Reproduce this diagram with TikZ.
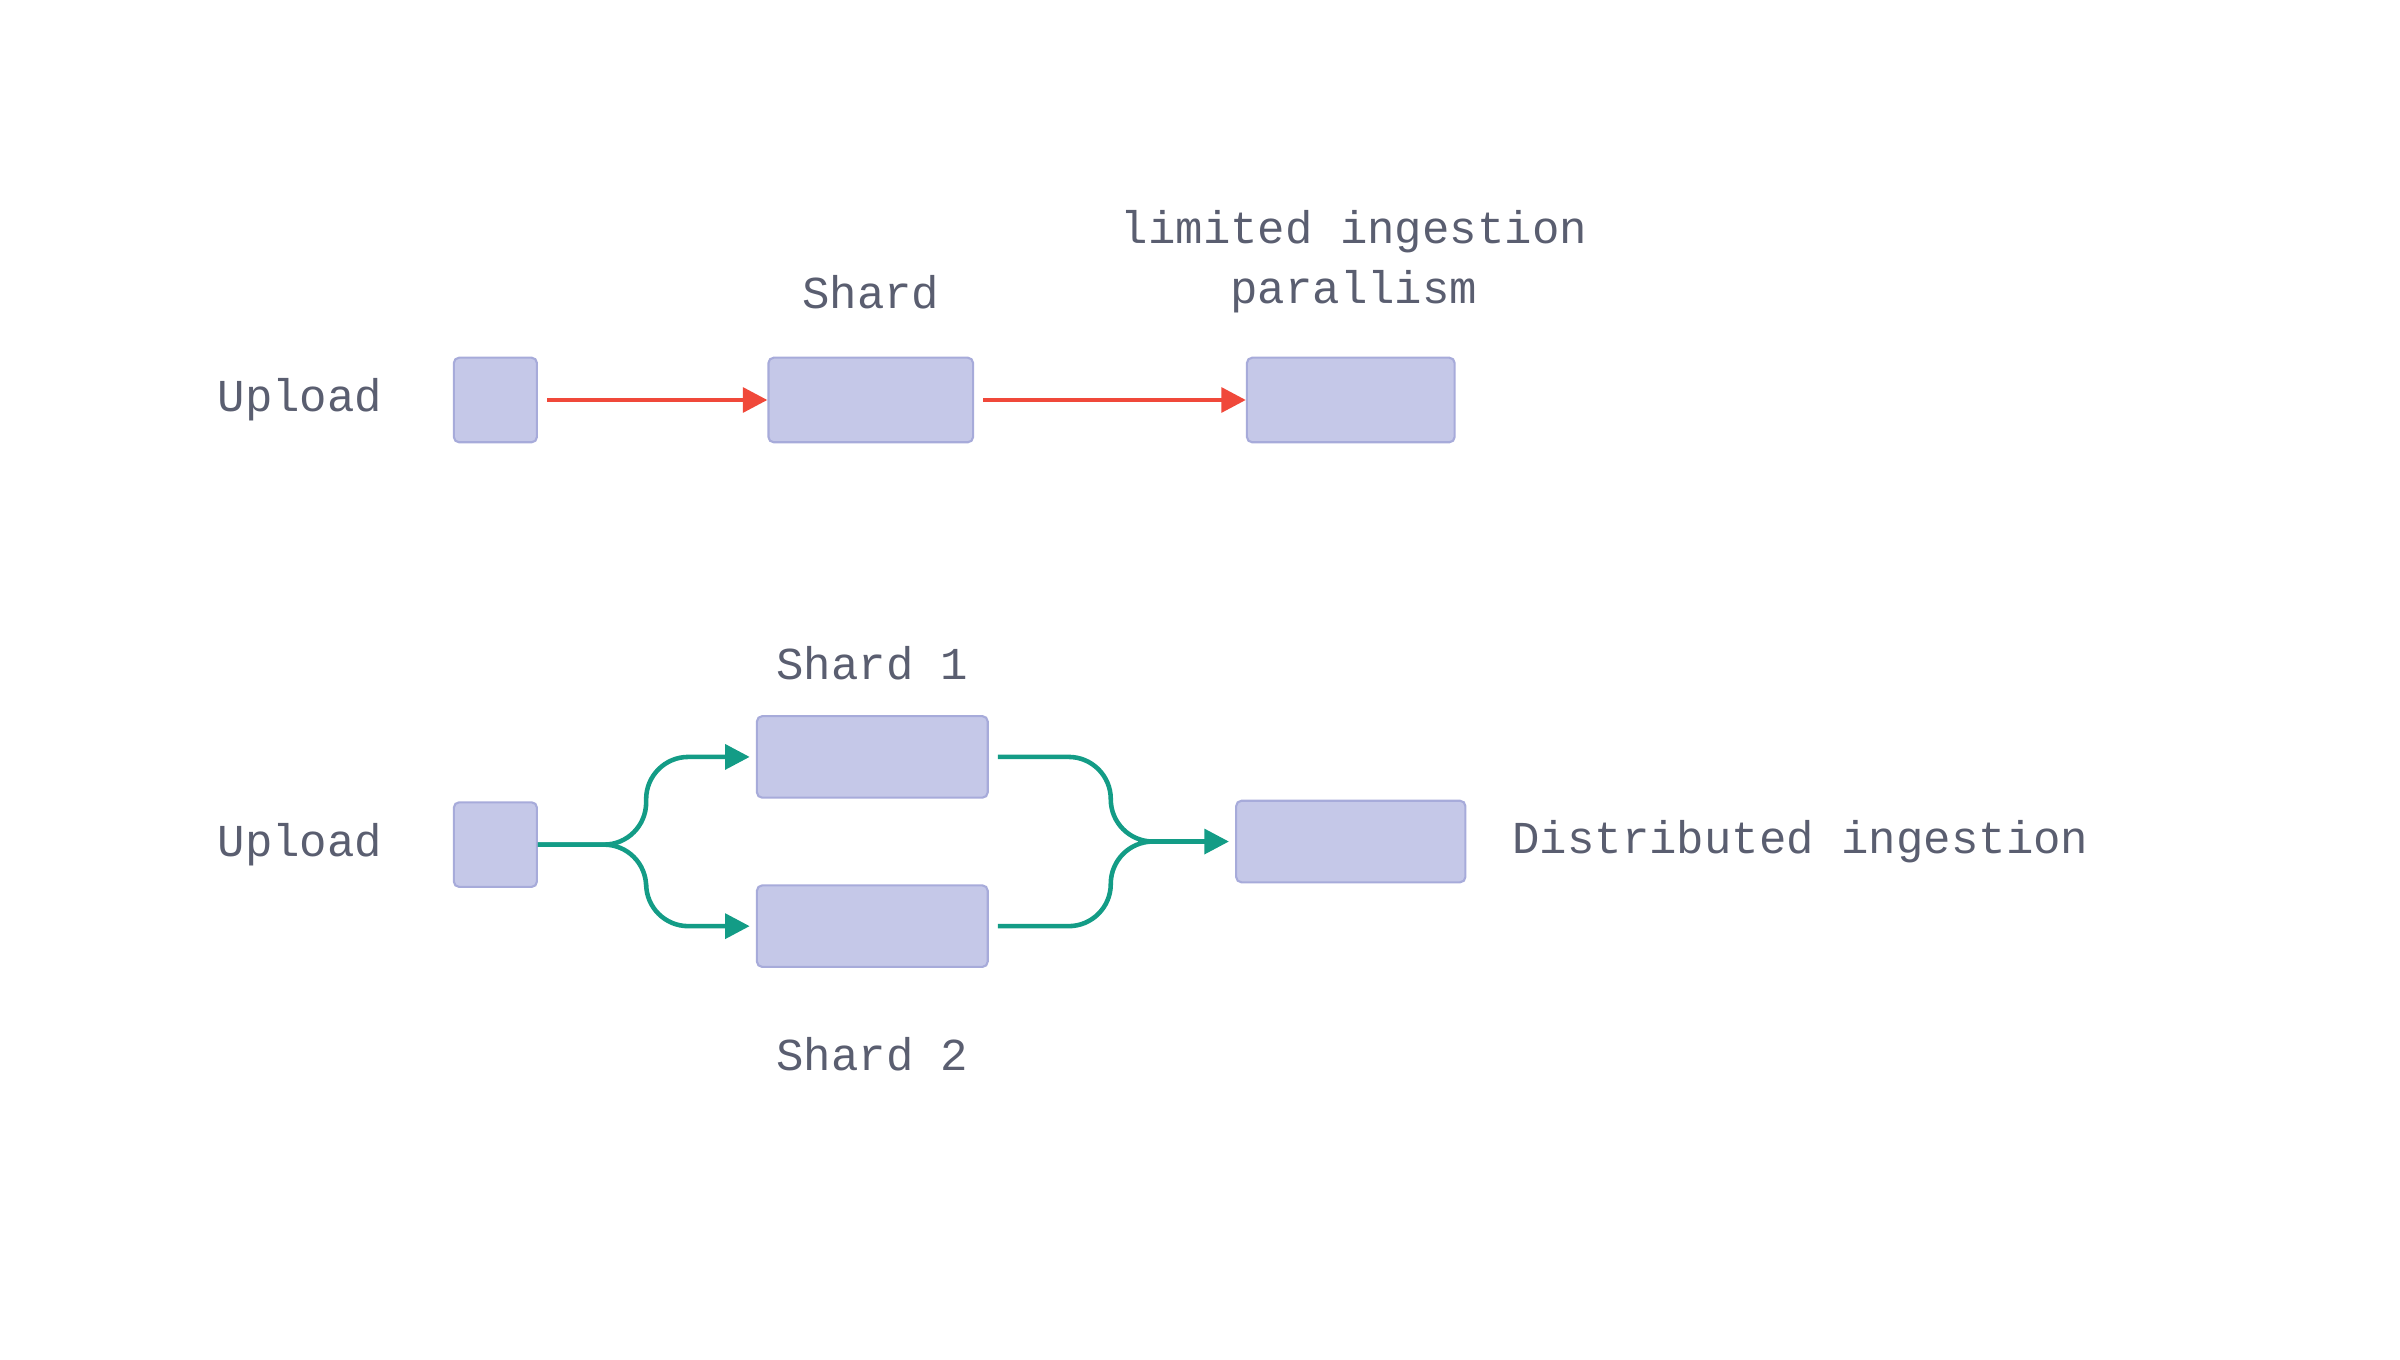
\documentclass[tikz,border=0pt]{standalone}
\usepackage{fontspec}
\setmonofont{Liberation Mono}
\usetikzlibrary{arrows.meta}
\definecolor{boxfill}{HTML}{C5C8E8}
\definecolor{boxline}{HTML}{A7ABDA}
\definecolor{txt}{HTML}{5A5E70}
\definecolor{redline}{HTML}{F0483A}
\definecolor{greenline}{HTML}{139C86}
\tikzset{
    blk/.style={draw=boxline,fill=boxfill,line width=0.6pt,rounded corners=1.5pt,inner sep=0pt},
    lbl/.style={text=txt,font=\ttfamily\fontsize{13}{17}\selectfont,align=center},
    redarr/.style={draw=redline,line width=1.3pt,-{Triangle[length=7pt,width=7pt]}},
    grnarr/.style={draw=greenline,line width=1.3pt,rounded corners=12pt},
}
\begin{document}
        \begin{tikzpicture}[x=0.015385cm,y=-0.015385cm]
            \useasboundingbox (0,0) rectangle (1560,884);
            % single shard
            \node[lbl] (up1) at (195,260) {Upload};
            \node[blk,minimum width=54*0.015385cm,minimum height=55*0.015385cm] (src1) at (322,260) {};
            \node[blk,minimum width=133*0.015385cm,minimum height=55*0.015385cm] (sh) at (566,260) {};
            \node[blk,minimum width=135*0.015385cm,minimum height=55*0.015385cm] (ing1) at (878,260) {};
            \node[lbl] (shl) at (566,190) {Shard};
            \node[lbl] (ingl) at (880,170) {limited ingestion\\parallism};
            \draw[redarr] ([xshift=6*0.015385cm]src1.east) -- (sh.west);
            \draw[redarr] ([xshift=6*0.015385cm]sh.east) -- (ing1.west);
            % two shards
            \node[lbl] (up2) at (195,549) {Upload};
            \node[blk,minimum width=54*0.015385cm,minimum height=55*0.015385cm] (src2) at (322,549) {};
            \node[blk,minimum width=150*0.015385cm,minimum height=53*0.015385cm] (sha) at (567,492) {};
            \node[blk,minimum width=150*0.015385cm,minimum height=53*0.015385cm] (shb) at (567,602) {};
            \node[blk,minimum width=149*0.015385cm,minimum height=53*0.015385cm] (ing2) at (878,547) {};
            \node[lbl] (shal) at (567,431) {Shard 1};
            \node[lbl] (shbl) at (567,685) {Shard 2};
            \node[lbl,anchor=west] (ing2l) at (975,547) {Distributed ingestion};
            \draw[grnarr,-{Triangle[length=7pt,width=7pt]}] (src2.east) -- (420,549) |- ([xshift=-4*0.015385cm]sha.west);
            \draw[grnarr,-{Triangle[length=7pt,width=7pt]}] (src2.east) -- (420,549) |- ([xshift=-4*0.015385cm]shb.west);
            \draw[grnarr] ([xshift=6*0.015385cm]sha.east) -| (722,547) -- (760,547);
            \draw[grnarr] ([xshift=6*0.015385cm]shb.east) -| (722,547) -- (760,547);
            \draw[grnarr,-{Triangle[length=7pt,width=7pt]}] (740,547) -- ([xshift=-4*0.015385cm]ing2.west);
        \end{tikzpicture}
\end{document}
